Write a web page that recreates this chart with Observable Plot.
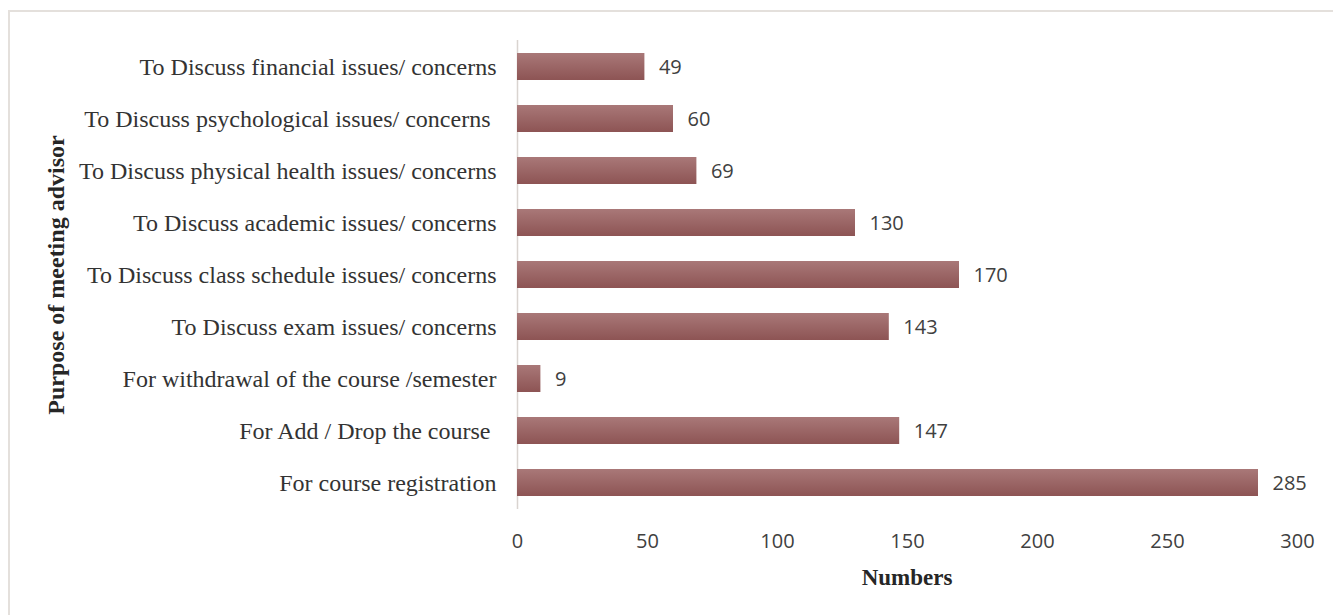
<!DOCTYPE html>
<html><head><meta charset="utf-8">
<script src="https://cdn.jsdelivr.net/npm/d3@7"></script>
<script src="https://cdn.jsdelivr.net/npm/@observablehq/plot@0.6"></script>
<style>
body{margin:0;background:#fff;}
#wrap{position:relative;width:1333px;height:615px;overflow:hidden;}
#frame{position:absolute;left:8px;top:10px;width:1340px;height:620px;border-top:2px solid #e4e0dc;border-left:2px solid #e4e0dc;}
#chart{position:absolute;left:0;top:0;}
</style></head><body>
<div id="wrap"><div id="frame"></div><div id="chart"></div></div>
<script>
const purposes = [
  "To Discuss financial issues/ concerns",
  "To Discuss psychological issues/ concerns\u00a0",
  "To Discuss physical health issues/ concerns",
  "To Discuss academic issues/ concerns",
  "To Discuss class schedule issues/ concerns",
  "To Discuss exam issues/ concerns",
  "For withdrawal of the course /semester",
  "For Add / Drop the course\u00a0",
  "For course registration"
];
const counts = [49, 60, 69, 130, 170, 143, 9, 147, 285];
const xTicks = [0, 50, 100, 150, 200, 250, 300];
const xTitle = "Numbers";
const yTitle = "Purpose of meeting advisor";

const data = purposes.map((p, i) => ({purpose: p, count: counts[i]}));

const chart = Plot.plot({
  width: 1333,
  height: 615,
  marginLeft: 517,
  marginRight: 36,
  marginTop: 40,
  marginBottom: 106,
  style: {background: "transparent"},
  x: {domain: [0, 300]},
  y: {domain: purposes, paddingInner: 0.48, paddingOuter: 0.24},
  marks: [
    Plot.ruleX([0], {stroke: "#d9d4d0", strokeWidth: 1.5}),
    Plot.barX(data, {x: "count", y: "purpose", fill: "url(#barGrad)"}),
    Plot.text(data, {x: "count", y: "purpose", text: d => String(d.count), textAnchor: "start", dx: 14, dy: 1,
      fontFamily: "'Open Sans', sans-serif", fontSize: 20, fill: "#404040"}),
    Plot.axisY({tickSize: 0, tickPadding: 21, fontFamily: "'Liberation Serif', 'Times New Roman', serif",
      fontSize: 24, fill: "#333", label: yTitle, labelAnchor: "center", labelOffset: 471, labelArrow: false}),
    Plot.axisX({ticks: xTicks, tickSize: 0, tickPadding: 24, fontFamily: "'Open Sans', sans-serif",
      fontSize: 20, fill: "#404040", label: null})
  ]
});

// gradient for bars
const svg = d3.select(chart);
const defs = svg.insert("defs", ":first-child");
const g = defs.append("linearGradient").attr("id", "barGrad").attr("x1", 0).attr("y1", 0).attr("x2", 0).attr("y2", 1);
g.append("stop").attr("offset", "0%").attr("stop-color", "#a97878");
g.append("stop").attr("offset", "100%").attr("stop-color", "#8d5454");

// style axis title
svg.selectAll("[aria-label='y-axis label'] text")
  .style("font-weight", "bold").attr("fill", "#262626");

// x title
svg.append("text")
  .attr("x", (517 + 1297) / 2)
  .attr("y", 585)
  .attr("text-anchor", "middle")
  .attr("font-family", "'Liberation Serif', 'Times New Roman', serif")
  .attr("font-size", 23)
  .attr("font-weight", "bold")
  .attr("fill", "#262626")
  .text(xTitle);

document.getElementById("chart").appendChild(chart);
</script>
</body></html>
